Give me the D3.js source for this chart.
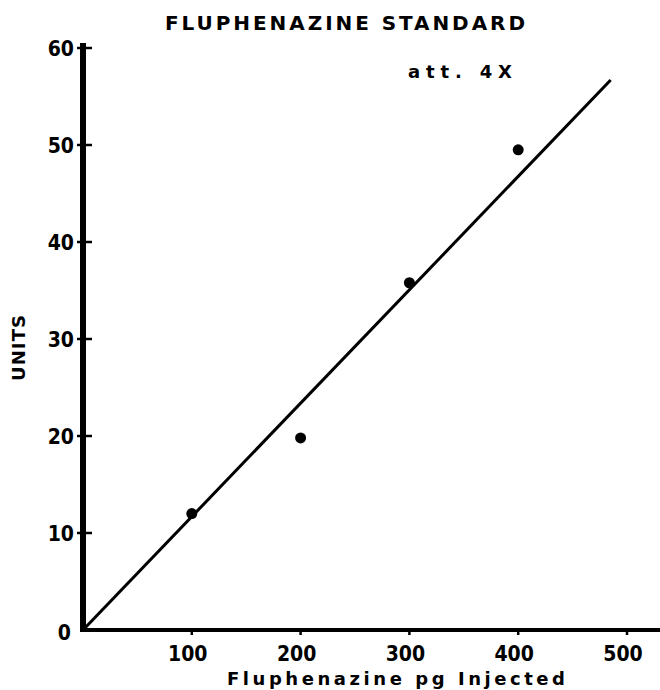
<!DOCTYPE html>
<html>
<head>
<meta charset="utf-8">
<script src="https://cdn.jsdelivr.net/npm/d3@7"></script>
<style>
  body { margin: 0; background: #fff; }
  text { fill: #000; font-weight: bold; }
</style>
</head>
<body>
<div id="chart"></div>
<script>
// Data
const amounts = [100, 200, 300, 400];        // pg injected
const units = [12, 19.8, 35.8, 49.5];         // response
const fitX = [0, 485];                        // hand-drawn standard line
const fitY = [0, 56.7];
const xTicks = [100, 200, 300, 400, 500];
const yTicks = [0, 10, 20, 30, 40, 50, 60];

const width = 660;
const height = 690;
const tickFont = "'DejaVu Sans Condensed', 'Liberation Sans Narrow', sans-serif";
const labelFont = "'DejaVu Sans', sans-serif";

const x = d3.scaleLinear().domain([0, 500]).range([83, 627]);
const y = d3.scaleLinear().domain([0, 60]).range([630, 48]);

const svg = d3.select("#chart")
    .append("svg")
    .attr("width", width)
    .attr("height", height);

// Title
svg.append("text")
    .attr("x", 345)
    .attr("y", 30)
    .attr("text-anchor", "middle")
    .attr("textLength", 360)
    .attr("lengthAdjust", "spacing")
    .style("font-family", labelFont)
    .style("font-size", "20px")
    .text("FLUPHENAZINE STANDARD");

svg.append("text")
    .attr("x", 408)
    .attr("y", 78)
    .attr("textLength", 104)
    .attr("lengthAdjust", "spacing")
    .style("font-family", labelFont)
    .style("font-size", "18px")
    .text("att. 4X");

// X axis: thick baseline with small ticks below
svg.append("line")
    .attr("x1", x(0) - 2)
    .attr("x2", width)
    .attr("y1", y(0))
    .attr("y2", y(0))
    .attr("stroke", "#000")
    .attr("stroke-width", 4);

svg.selectAll(".xtick")
    .data(xTicks)
    .enter()
    .append("line")
    .attr("class", "xtick")
    .attr("x1", d => x(d))
    .attr("x2", d => x(d))
    .attr("y1", y(0))
    .attr("y2", y(0) + 5)
    .attr("stroke", "#000")
    .attr("stroke-width", 2.5);

svg.selectAll(".xlabel")
    .data(xTicks)
    .enter()
    .append("text")
    .attr("class", "xlabel")
    .attr("x", d => x(d) - 4)
    .attr("y", 661)
    .attr("text-anchor", "middle")
    .style("font-family", tickFont)
    .style("font-stretch", "condensed")
    .style("font-size", "21px")
    .text(d => d);

// Y axis: heavy vertical bar with cross ticks
svg.append("line")
    .attr("x1", x(0))
    .attr("x2", x(0))
    .attr("y1", y(0) + 2)
    .attr("y2", y(60) - 5)
    .attr("stroke", "#000")
    .attr("stroke-width", 6);

svg.selectAll(".ytick")
    .data(yTicks.filter(d => d > 0))
    .enter()
    .append("line")
    .attr("class", "ytick")
    .attr("x1", x(0) - 6)
    .attr("x2", x(0) + 9)
    .attr("y1", d => y(d))
    .attr("y2", d => y(d))
    .attr("stroke", "#000")
    .attr("stroke-width", 2.5);

svg.selectAll(".ylabel")
    .data(yTicks)
    .enter()
    .append("text")
    .attr("class", "ylabel")
    .attr("x", d => d === 0 ? 71 : 74)
    .attr("y", d => y(d) + (d === 0 ? 2 : 0))
    .attr("dy", "0.36em")
    .attr("text-anchor", "end")
    .style("font-family", tickFont)
    .style("font-stretch", "condensed")
    .style("font-size", "21px")
    .text(d => d);

// Axis titles
svg.append("text")
    .attr("transform", "translate(25, 348) rotate(-90)")
    .attr("text-anchor", "middle")
    .attr("textLength", 66)
    .attr("lengthAdjust", "spacing")
    .style("font-family", labelFont)
    .style("font-size", "18px")
    .text("UNITS");

svg.append("text")
    .attr("x", 396)
    .attr("y", 685)
    .attr("text-anchor", "middle")
    .attr("textLength", 338)
    .attr("lengthAdjust", "spacing")
    .style("font-family", labelFont)
    .style("font-size", "18px")
    .text("Fluphenazine pg Injected");

// Standard line
const line = d3.line()
    .x(d => x(d[0]))
    .y(d => y(d[1]));

svg.append("path")
    .datum(d3.zip(fitX, fitY))
    .attr("d", line)
    .attr("fill", "none")
    .attr("stroke", "#000")
    .attr("stroke-width", 3);

// Measured points
svg.selectAll(".pt")
    .data(d3.zip(amounts, units))
    .enter()
    .append("circle")
    .attr("class", "pt")
    .attr("cx", d => x(d[0]))
    .attr("cy", d => y(d[1]))
    .attr("r", 5.5)
    .attr("fill", "#000");
</script>
</body>
</html>
